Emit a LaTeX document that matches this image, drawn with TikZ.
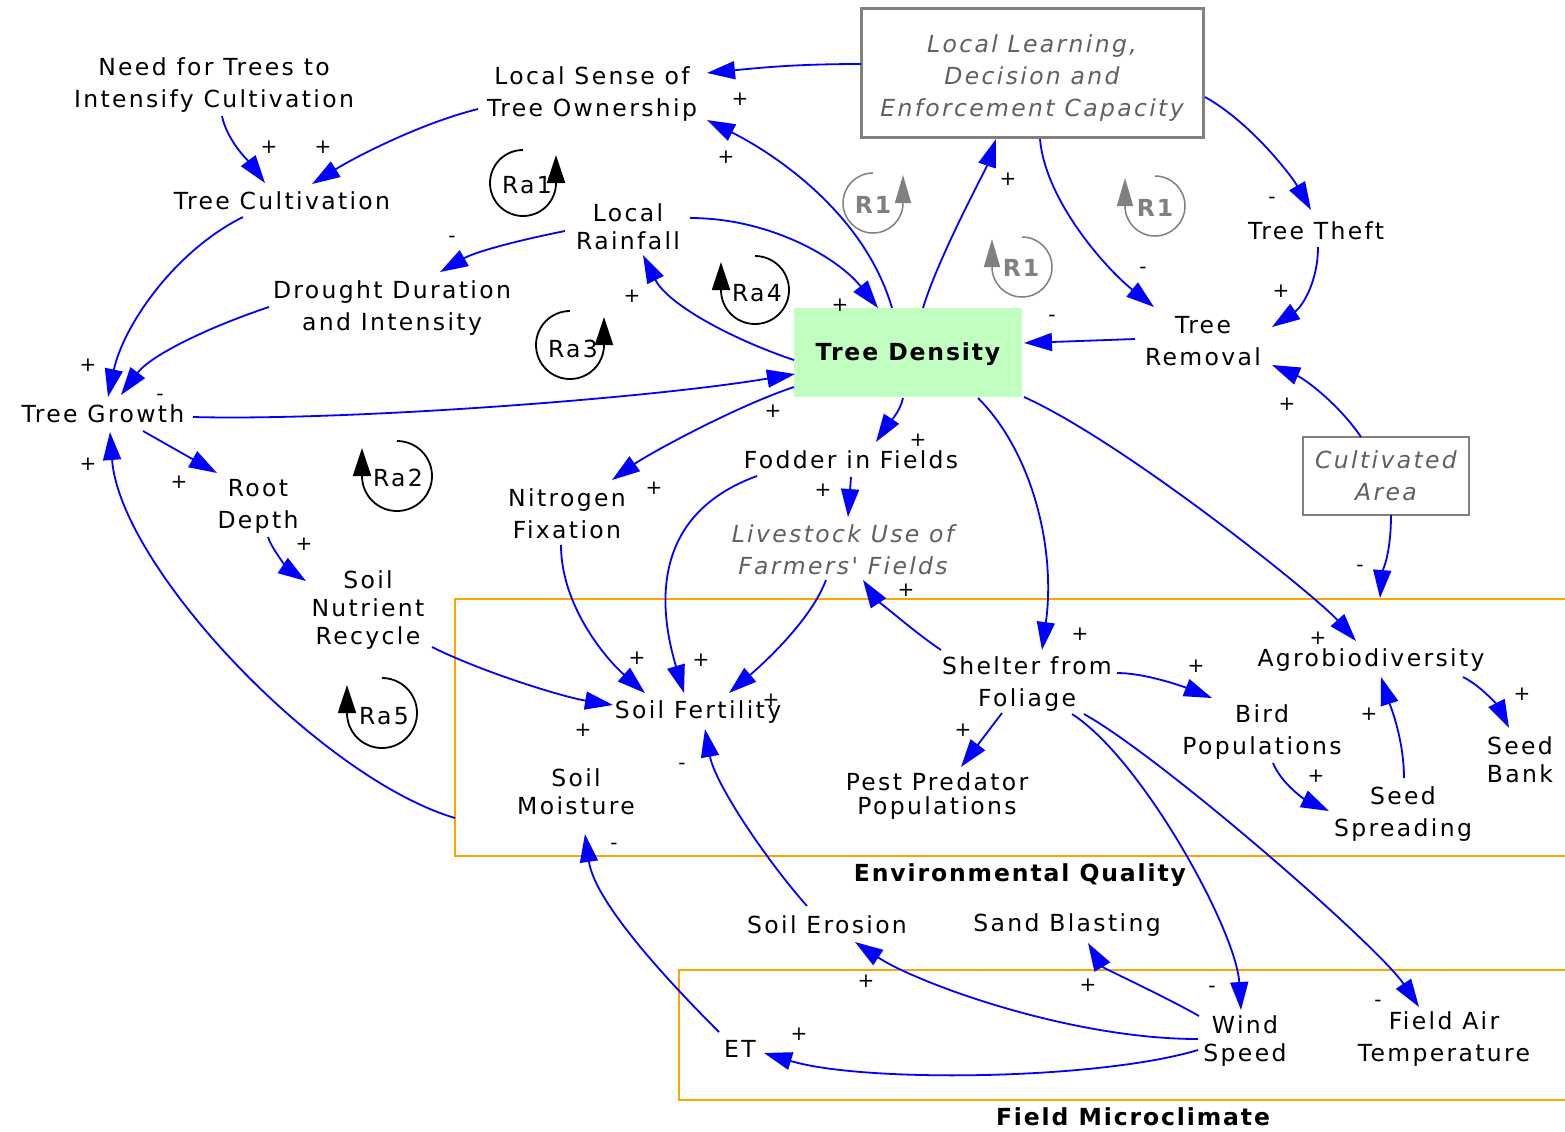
\documentclass[tikz,border=0pt]{standalone}
\usepackage{fontspec}
\setmainfont{DejaVu Sans}[LetterSpace=10, Ligatures=TeXOff]
\newfontfamily\bsans{DejaVu Sans}[LetterSpace=8, Ligatures=TeXOff]
\usetikzlibrary{arrows.meta}
\definecolor{lblue}{RGB}{0,0,255}
\definecolor{tdgreen}{RGB}{192,255,192}
\definecolor{bgray}{RGB}{128,128,128}
\definecolor{itgray}{RGB}{96,96,96}
\definecolor{orng}{RGB}{255,165,0}
\tikzset{
  lbl/.style={font=\fontsize{11.75}{16}\selectfont, align=center, inner sep=2pt, text=black},
  lblb/.style={lbl, font=\fontsize{11.75}{14}\selectfont},
  lblc/.style={lbl, font=\fontsize{11.75}{12}\selectfont},
  ital/.style={lbl, font=\fontsize{11.75}{16}\selectfont\itshape, text=itgray},
  lk/.style={draw=lblue, line width=0.9pt, -{Triangle[length=14pt,width=9pt]}},
  sg/.style={font=\fontsize{10}{12}\selectfont, inner sep=0pt, text=black},
  loopk/.style={draw=black, line width=0.9pt, -{Triangle[length=14pt,width=9pt]}},
  loopg/.style={draw=bgray, line width=0.75pt, -{Triangle[length=14pt,width=8pt]}},
  grpbox/.style={draw=orng, line width=0.75pt, inner sep=0pt, outer sep=0pt},
  grplbl/.style={font=\bsans\bfseries\fontsize{11.75}{14}\selectfont, inner sep=0pt},
  rlbl/.style={lbl, text=bgray, font=\bsans\bfseries\fontsize{11.75}{14}\selectfont},
}
\begin{document}
\begin{tikzpicture}[x=0.5pt,y=0.5pt]
\useasboundingbox (0,0) rectangle (1565,-1131);
\clip (0,0) rectangle (1565,-1131);
\fill[white] (0,0) rectangle (1565,-1131);

% group boxes
\node[grpbox, minimum width=560pt, minimum height=128.5pt] (eq) at (1015,-727.5) {};
\node[grpbox, minimum width=448pt, minimum height=65pt] (fm) at (1127,-1035) {};
\node[grplbl] (eqlbl) at (1020,-875) {Environmental Quality};
\node[grplbl] (fmlbl) at (1133,-1117) {Field Microclimate};

% variables
\node[lbl] (need) at (214,-85) {Need for Trees to\\Intensify Cultivation};
\node[lbl] (ls) at (592,-94) {Local Sense of\\Tree Ownership};
\node[ital, draw=bgray, line width=1.5pt, minimum width=171pt, minimum height=64.5pt] (llb) at (1032,-72.5) {\rule{0pt}{14pt}Local Learning,\\Decision and\\Enforcement Capacity};
\node[lbl] (tc) at (282,-201) {Tree Cultivation};
\node[lblb] (lr) at (628,-227) {Local\\Rainfall};
\node[lbl] (dd) at (392,-308) {Drought Duration\\and Intensity};
\node[lbl, fill=tdgreen, minimum width=114pt, minimum height=44.5pt, font=\bsans\bfseries\fontsize{11.75}{14}\selectfont] (td) at (908,-352.5) {\rule{0pt}{11pt}Tree Density};
\node[lbl] (trm) at (1203,-341) {Tree\\Removal};
\node[lbl] (tt) at (1316,-231) {Tree Theft};
\node[lbl] (tg) at (103,-414) {Tree Growth};
\node[lbl] (rd) at (258,-506) {Root\\Depth};
\node[lblb] (snr) at (368,-610) {Soil\\Nutrient\\Recycle};
\node[lbl] (nf) at (567,-514) {Nitrogen\\Fixation};
\node[lbl] (fif) at (851,-460) {Fodder in Fields};
\node[ital] (lu) at (843,-550) {Livestock Use of\\Farmers' Fields};
\node[ital, draw=bgray, line width=1pt, minimum width=83pt, minimum height=39pt] (ca) at (1386,-476) {Cultivated\\Area};
\node[lbl] (sh) at (1027,-684) {Shelter from\\Foliage};
\node[lbl] (ab) at (1371,-660) {Agrobiodiversity};
\node[lbl] (bp) at (1262,-732) {Bird\\Populations};
\node[lblb] (sb) at (1520,-760) {Seed\\Bank};
\node[lbl] (ss) at (1403,-814) {Seed\\Spreading};
\node[lbl] (sf) at (698,-712) {Soil Fertility};
\node[lblb] (sm) at (576,-792) {Soil\\Moisture};
\node[lblc] (pp) at (937,-796) {Pest Predator\\Populations};
\node[lbl] (se) at (827,-925) {Soil Erosion};
\node[lbl] (sbl) at (1067,-925) {Sand Blasting};
\node[lbl] (et) at (740,-1049) {ET};
\node[lblb] (ws) at (1245,-1041) {Wind\\Speed};
\node[lbl] (fat) at (1444,-1039) {Field Air\\Temperature};

% loop markers
\node[lbl] (ra1) at (527,-185) {Ra1};
\draw[loopk] (523,-150) arc[start angle=90, end angle=360, radius=16.5pt] -- ++(0,28);
\node[lbl] (ra3) at (573,-349) {Ra3};
\draw[loopk] (570,-311) arc[start angle=90, end angle=360, radius=17pt] -- ++(0,28);
\node[lbl] (ra4) at (757,-293) {Ra4};
\draw[loopk] (755,-256) arc[start angle=90, end angle=-180, radius=17pt] -- ++(0,28);
\node[lbl] (ra2) at (398,-478) {Ra2};
\draw[loopk] (397,-441) arc[start angle=90, end angle=-180, radius=17.5pt] -- ++(0,28);
\node[lbl] (ra5) at (384,-716) {Ra5};
\draw[loopk] (382,-678) arc[start angle=90, end angle=-180, radius=17.5pt] -- ++(0,28);
\node[rlbl] (r1a) at (873,-205) {R1};
\draw[loopg] (873,-173) arc[start angle=90, end angle=360, radius=15pt] -- ++(0,28);
\node[rlbl] (r1b) at (1155,-208) {R1};
\draw[loopg] (1155,-176) arc[start angle=90, end angle=-180, radius=15pt] -- ++(0,28);
\node[rlbl] (r1c) at (1021,-268) {R1};
\draw[loopg] (1022,-237) arc[start angle=90, end angle=-180, radius=15pt] -- ++(0,28);

% links
\draw[lk] ([shift={(-171,8.5)}]llb.center) .. controls +(-60,0) and +(60,6) .. ([shift={(115,21)}]ls.center);
\draw[lk] ([shift={(-16,44.5)}]td.center) .. controls +(-27,93) and +(70,-35) .. ([shift={(115,-26)}]ls.center);
\draw[lk] ([shift={(-114,-15)}]ls.center) .. controls +(-60,-15) and +(40,25) .. ([shift={(30,17)}]tc.center);
\draw[lk] ([shift={(8,-31)}]need.center) .. controls +(5,-25) and +(-15,20) .. ([shift={(-17,18)}]tc.center);
\draw[lk] ([shift={(-39,-16)}]tc.center) .. controls +(-70,-35) and +(15,70) .. ([shift={(5,17)}]tg.center);
\draw[lk] ([shift={(-123,1)}]dd.center) .. controls +(-60,-20) and +(30,40) .. ([shift={(18,19)}]tg.center);
\draw[lk] ([shift={(-63,-4)}]lr.center) .. controls +(-50,-10) and +(35,20) .. ([shift={(48,36)}]dd.center);
\draw[lk] ([shift={(62,9)}]lr.center) .. controls +(80,0) and +(-40,50) .. ([shift={(-30,44.5)}]td.center);
\draw[lk] ([shift={(-114,-7.5)}]td.center) .. controls +(-60,20) and +(25,-50) .. ([shift={(15,-28)}]lr.center);
\draw[lk] ([shift={(15,44.5)}]td.center) .. controls +(15,50) and +(-10,-30) .. ([shift={(-36,-66.5)}]llb.center);
\draw[lk] ([shift={(173,-24.5)}]llb.center) .. controls +(45,-25) and +(-20,35) .. ([shift={(-5,21)}]tt.center);
\draw[lk] ([shift={(8,-66.5)}]llb.center) .. controls +(5,-60) and +(-50,40) .. ([shift={(-49,34)}]trm.center);
\draw[lk] ([shift={(2,-16)}]tt.center) .. controls +(0,-35) and +(30,20) .. ([shift={(69,14)}]trm.center);
\draw[lk] ([shift={(-68,2)}]trm.center) -- ([shift={(116,9.5)}]td.center);
\draw[lk] ([shift={(-25,39)}]ca.center) .. controls +(-20,30) and +(35,-15) .. ([shift={(69,-24)}]trm.center);
\draw[lk] ([shift={(5,-39)}]ca.center) .. controls +(0,-40) and +(2,25) .. ([shift={(9,62)}]ab.center);
\draw[lk] ([shift={(90,-3)}]tg.center) .. controls +(150,-4) and +(-150,-25) .. ([shift={(-113,-21.5)}]td.center);
\draw[lk] ([shift={(40,-17)}]tg.center) -- ([shift={(-41,33)}]rd.center);
\draw[lk] ([shift={(10,-31)}]rd.center) .. controls +(5,-15) and +(-15,10) .. ([shift={(-62,29)}]snr.center);
\draw[lk] ([shift={(64,-37)}]snr.center) .. controls +(50,-25) and +(-50,8) .. ([shift={(-85,7)}]sf.center);
\draw[lk] ([shift={(-6,-31)}]nf.center) .. controls +(0,-60) and +(-40,35) .. ([shift={(-53,19)}]sf.center);
\draw[lk] ([shift={(-94,-16)}]fif.center) .. controls +(-110,-40) and +(-24,80) .. ([shift={(-14,19)}]sf.center);
\draw[lk] ([shift={(-17,-30)}]lu.center) .. controls +(-15,-40) and +(35,30) .. ([shift={(31,19)}]sf.center);
\draw[lk] ([shift={(-114,-34.5)}]td.center) .. controls +(-60,-20) and +(35,25) .. ([shift={(45,34)}]nf.center);
\draw[lk] ([shift={(-5,-45.5)}]td.center) .. controls +(-3,-15) and +(10,15) .. ([shift={(25,18)}]fif.center);
\draw[lk] ([shift={(0,-17)}]fif.center) -- ([shift={(5,33)}]lu.center);
\draw[lk] ([shift={(-86,34)}]sh.center) .. controls +(-30,20) and +(10,-15) .. ([shift={(20,-30)}]lu.center);
\draw[lk] ([shift={(70,-45.5)}]td.center) .. controls +(55,-55) and +(14,100) .. ([shift={(15,34)}]sh.center);
\draw[lk] ([shift={(116,-44.5)}]td.center) .. controls +(100,-45) and +(-40,45) .. ([shift={(-15,19)}]ab.center);
\draw[lk] ([shift={(90,11)}]sh.center) .. controls +(30,0) and +(-25,10) .. ([shift={(-50,34)}]bp.center);
\draw[lk] ([shift={(-25,-29)}]sh.center) -- ([shift={(24,29)}]pp.center);
\draw[lk] ([shift={(45,-30)}]sh.center) .. controls +(70,-45) and +(-5,80) .. ([shift={(-4,31)}]ws.center);
\draw[lk] ([shift={(57,-30)}]sh.center) .. controls +(80,-45) and +(-40,60) .. ([shift={(-25,32)}]fat.center);
\draw[lk] ([shift={(92,-17)}]ab.center) .. controls +(20,-10) and +(-10,20) .. ([shift={(-11,32)}]sb.center);
\draw[lk] ([shift={(11,-31)}]bp.center) .. controls +(8,-20) and +(-25,12) .. ([shift={(-74,3)}]ss.center);
\draw[lk] ([shift={(1,36)}]ss.center) .. controls +(0,40) and +(8,-25) .. ([shift={(10,-17)}]ab.center);
\draw[lk] ([shift={(0,-90.5)}]eq.west) .. controls +(-135,40) and +(10,-135) .. ([shift={(7,-18)}]tg.center);
\draw[lk] ([shift={(-21,17)}]et.center) .. controls +(-45,45) and +(10,-70) .. ([shift={(9,-42)}]sm.center);
\draw[lk] ([shift={(-20,19)}]se.center) .. controls +(-40,45) and +(10,-55) .. ([shift={(7,-17)}]sf.center);
\draw[lk] ([shift={(-47,2)}]ws.center) .. controls +(-130,0) and +(60,-40) .. ([shift={(28,-17)}]se.center);
\draw[lk] ([shift={(-46,25)}]ws.center) .. controls +(-35,20) and +(15,-25) .. ([shift={(21,-18)}]sbl.center);
\draw[lk] ([shift={(-47,-9)}]ws.center) .. controls +(-100,-30) and +(100,-30) .. ([shift={(24,-4)}]et.center);

% polarity signs
\foreach \x/\y/\t [count=\i] in {
  740/99/+, 726/157/+, 323/147/+, 269/147/+, 88/365/+, 160/397/-, 452/239/-,
  840/305/+, 632/296/+, 1008/179/+, 1272/200/-, 1143/270/-, 1281/291/+,
  1052/318/-, 1287/404/+, 1360/568/-, 179/482/+, 304/544/+, 583/730/+,
  637/658/+, 701/660/+, 771/700/+, 773/411/+, 654/488/+, 918/440/+,
  823/490/+, 906/590/+, 1080/634/+, 1318/638/+, 1196/666/+, 963/730/+,
  1212/989/-, 1378/1003/-, 1522/694/+, 1316/776/+, 1369/714/+, 88/464/+,
  614/846/-, 682/766/-, 866/981/+, 1088/985/+, 799/1034/+}
  \node[sg] (s\i) at (\x,-\y) {\t};
\end{tikzpicture}
\end{document}
